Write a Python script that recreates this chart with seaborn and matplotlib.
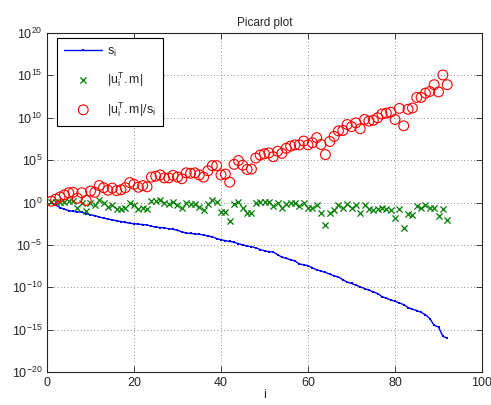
import numpy as np
import pandas as pd
import matplotlib
matplotlib.use("Agg")
import matplotlib.pyplot as plt
import seaborn as sns

# index of singular values
idx = list(range(1, 93))

# log10 of singular values s_i
s_log = [-0.05, -0.3, -0.6, -0.8, -0.95, -1.05, -1.1, -1.15, -1.3, -1.45,
         -1.55, -1.7, -1.85, -1.95, -2.05, -2.15, -2.25, -2.35, -2.45, -2.5,
         -2.55, -2.6, -2.65, -2.8, -2.9, -2.95, -3.0, -3.1, -3.15, -3.3,
         -3.45, -3.6, -3.65, -3.7, -3.75, -3.85, -3.95, -4.05, -4.25, -4.4,
         -4.5, -4.6, -4.7, -4.85, -5.0, -5.15, -5.2, -5.35, -5.55, -5.7,
         -5.8, -5.85, -6.15, -6.45, -6.6, -6.75, -6.9, -7.25, -7.35, -7.45,
         -7.7, -7.95, -8.1, -8.25, -8.45, -8.65, -8.8, -9.1, -9.4, -9.55,
         -9.75, -9.95, -10.15, -10.35, -10.55, -10.75, -11.1, -11.3, -11.5, -11.65,
         -11.85, -12.05, -12.4, -12.6, -12.75, -12.95, -13.25, -13.7, -14.5, -14.7,
         -15.8, -16.0]

# log10 of |u_i^T.m|
utm_log = [0.1, 0.1, 0.05, 0.1, 0.2, 0.15, -0.6, 0.0, -1.05, -0.1,
           -0.35, 0.3, -0.1, -0.5, -0.35, -0.75, -0.75, -0.6, -0.1, -0.35,
           -0.75, -0.6, -0.8, 0.2, 0.2, 0.3, -0.1, -0.2, 0.05, -0.3,
           -0.65, -0.1, -0.2, -0.2, -0.5, -0.85, -0.2, 0.3, 0.1, -1.15,
           -1.15, -2.2, -0.2, 0.1, -0.6, -1.25, -1.25, -0.1, 0.05, 0.05,
           0.05, -0.45, -0.1, -0.65, -0.2, -0.1, -0.1, -0.45, -0.1, -0.65,
           -0.65, -0.3, -1.25, -2.6, -1.25, -0.85, -0.35, -0.6, -0.2, -0.6,
           -0.35, -1.25, -0.35, -0.75, -0.85, -0.75, -0.65, -0.75, -0.85, -1.85,
           -0.75, -3.0, -1.4, -1.45, -0.45, -0.65, -0.35, -0.6, -0.6, -1.65,
           -0.75, -2.1]

# log10 of |u_i^T.m|/s_i
ratio_log = [0.15, 0.4, 0.65, 0.9, 1.15, 1.2, 0.5, 1.15, 0.25, 1.35,
             1.2, 2.0, 1.75, 1.45, 1.7, 1.4, 1.5, 1.75, 2.35, 2.15,
             1.8, 2.0, 1.85, 3.0, 3.1, 3.25, 2.9, 2.9, 3.2, 3.0,
             2.8, 3.5, 3.45, 3.5, 3.25, 3.0, 3.75, 4.35, 4.35, 3.25,
             3.35, 2.4, 4.5, 4.95, 4.4, 3.9, 3.95, 5.25, 5.6, 5.75,
             5.85, 5.4, 6.05, 5.8, 6.4, 6.65, 6.8, 6.8, 7.25, 6.8,
             7.05, 7.65, 6.85, 5.65, 7.2, 7.8, 8.45, 8.5, 9.2, 8.95,
             9.4, 8.7, 9.8, 9.6, 9.7, 10.0, 10.45, 10.55, 10.65, 9.8,
             11.1, 9.05, 11.0, 11.15, 12.4, 12.4, 12.9, 13.1, 13.9, 13.05,
             15.05, 13.9]

df = pd.DataFrame({
    "i": idx,
    "s": 10.0 ** np.array(s_log),
    "utm": 10.0 ** np.array(utm_log),
    "ratio": 10.0 ** np.array(ratio_log),
})

sns.set_style("ticks")
plt.rcParams["font.family"] = ["Liberation Sans", "DejaVu Sans"]
plt.rcParams["mathtext.default"] = "regular"

fig = plt.figure(figsize=(4.91, 4.05), dpi=100)
ax = fig.add_axes([0.0957, 0.0815, 0.886, 0.837])

sns.lineplot(data=df, x="i", y="s", ax=ax, color="blue", marker="s",
             markersize=2, markeredgewidth=0, linewidth=1.0,
             label=r"$s_i$", zorder=3)
sns.scatterplot(data=df, x="i", y="utm", ax=ax, color=(0, 0.5, 0), marker="x",
                s=20, linewidth=0.9, label=r"$|u_i^T.m|$", zorder=3)
sns.scatterplot(data=df, x="i", y="ratio", ax=ax, marker="o", s=50,
                facecolor="none", edgecolor="red", linewidth=0.8,
                label=r"$|u_i^T.m|/s_i$", zorder=3)

ax.set_yscale("log")
ax.set_xlim(0, 100)
ax.set_ylim(1e-20, 1e20)
ax.set_xticks([0, 20, 40, 60, 80, 100])
ax.set_yticks([10.0 ** k for k in range(-20, 21, 5)])
ax.minorticks_off()
ax.tick_params(direction="in", top=True, right=True, length=4, width=0.6,
               labelsize=9)
for sp in ax.spines.values():
    sp.set_linewidth(0.8)
    sp.set_visible(True)
ax.grid(True, linestyle=(0, (1, 3)), color="0.4", linewidth=0.6)

ax.set_xlabel("i", fontsize=9, labelpad=0)
ax.set_ylabel("")
ax.set_title("Picard plot", fontsize=8.5, pad=5)

leg = ax.legend(loc="upper left", bbox_to_anchor=(0.023, 0.985), fancybox=False,
                edgecolor="black", framealpha=1, fontsize=9, handlelength=3.0,
                handletextpad=0.4, labelspacing=0.9, borderpad=0.6,
                borderaxespad=0)
leg.get_frame().set_linewidth(0.8)

plt.savefig("out.png", dpi=100)
